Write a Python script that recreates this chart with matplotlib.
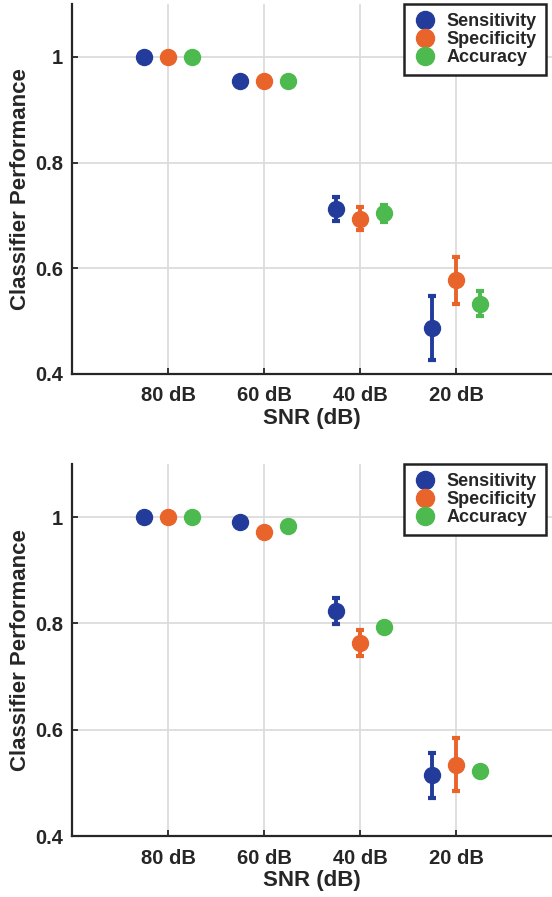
import matplotlib
matplotlib.use('Agg')
import matplotlib.pyplot as plt
from matplotlib.lines import Line2D
import numpy as np

plt.rcParams['font.family'] = ['Liberation Sans', 'DejaVu Sans']
plt.rcParams['font.weight'] = 'bold'

snr_labels = ['80 dB', '60 dB', '40 dB', '20 dB']
metrics = ['Sensitivity', 'Specificity', 'Accuracy']
colors = ['#233C9B', '#E8642A', '#4DBA4F']

# panel 1: mean and error half-width per SNR level
sens_1 = [1.0, 0.955, 0.712, 0.487]
sens_err_1 = [0.0, 0.0, 0.022, 0.060]
spec_1 = [1.0, 0.955, 0.694, 0.577]
spec_err_1 = [0.0, 0.0, 0.022, 0.044]
acc_1 = [1.0, 0.955, 0.704, 0.533]
acc_err_1 = [0.0, 0.0, 0.016, 0.024]

# panel 2
sens_2 = [1.0, 0.991, 0.823, 0.514]
sens_err_2 = [0.0, 0.0, 0.024, 0.043]
spec_2 = [1.0, 0.973, 0.763, 0.534]
spec_err_2 = [0.0, 0.0, 0.024, 0.050]
acc_2 = [1.0, 0.984, 0.793, 0.523]
acc_err_2 = [0.0, 0.0, 0.0, 0.0]

panels = [
    ([sens_1, spec_1, acc_1], [sens_err_1, spec_err_1, acc_err_1]),
    ([sens_2, spec_2, acc_2], [sens_err_2, spec_err_2, acc_err_2]),
]

fig = plt.figure(figsize=(5.52, 8.97), dpi=100)
axes = [fig.add_axes([0.1313, 0.5831, 0.8687, 0.4124]),
        fig.add_axes([0.1313, 0.0680, 0.8687, 0.4147])]

text_col = '#262626'
x = np.arange(1, len(snr_labels) + 1)
offsets = [-0.25, 0.0, 0.25]

for ax, (means, errs) in zip(axes, panels):
    for vals, err, off, col in zip(means, errs, offsets, colors):
        ax.errorbar(x + off, vals, yerr=err, fmt='o', color=col, ms=11.5,
                    mec=col, elinewidth=2.8, capsize=3, capthick=3, zorder=3)
    ax.set_xlim(0, 5)
    ax.set_ylim(0.4, 1.1)
    ax.set_xticks(x)
    ax.set_xticklabels(snr_labels)
    ax.set_yticks([0.4, 0.6, 0.8, 1.0])
    ax.set_yticklabels(['0.4', '0.6', '0.8', '1'])
    ax.grid(True, color='#dcdcdc', lw=1.3, zorder=0)
    ax.set_axisbelow(True)
    for side in ['top', 'right']:
        ax.spines[side].set_visible(False)
    for side in ['left', 'bottom']:
        ax.spines[side].set_linewidth(1.6)
        ax.spines[side].set_color(text_col)
    ax.tick_params(direction='in', length=4, width=1.3, colors=text_col,
                   labelsize=14.5)
    ax.tick_params(axis='x', pad=9)
    ax.tick_params(axis='y', pad=7)
    ax.set_xlabel('SNR (dB)', fontsize=16, fontweight='bold', color=text_col, labelpad=2)
    ax.set_ylabel('Classifier Performance', fontsize=16, fontweight='bold',
                  color=text_col, labelpad=3)

    handles = [Line2D([], [], ls='none', marker='o', ms=13, color=c) for c in colors]
    leg = ax.legend(handles, metrics, loc='upper right', bbox_to_anchor=(0.9875, 1.0),
                    borderaxespad=0, fancybox=False, framealpha=1, edgecolor='#222222',
                    fontsize=13, handlelength=1.4, handletextpad=0.5,
                    labelspacing=0.05, borderpad=0.5)
    leg.get_frame().set_linewidth(1.8)
    for t in leg.get_texts():
        t.set_fontweight('bold')
        t.set_color(text_col)

fig.savefig('out.png', dpi=100)
